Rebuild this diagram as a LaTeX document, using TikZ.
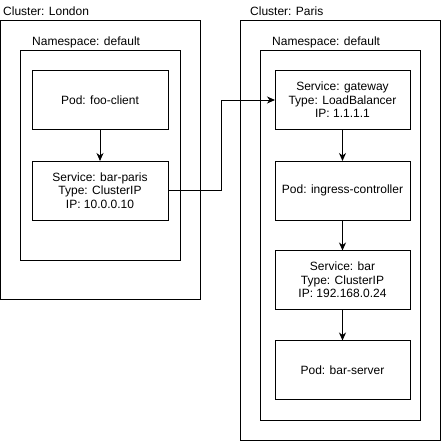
\documentclass[tikz,border=0pt]{standalone}
\usepackage{fontspec}
\setmainfont{Liberation Sans}
\usetikzlibrary{arrows.meta}
\begin{document}
\begin{tikzpicture}[x=1pt,y=-1pt,
  txt/.style={font=\fontsize{12}{13.5}\selectfont},
  frame/.style={draw=black,line width=1pt,inner sep=0pt,outer sep=0pt},
  item/.style={frame,txt,align=center,minimum width=136pt,minimum height=59pt},
  title/.style={txt,anchor=west,inner sep=0pt},
  conn/.style={draw=black,line width=1pt,-{Stealth[length=8pt,width=7pt,inset=2.5pt]}}
]
\useasboundingbox (0,0) rectangle (442,442);
% clusters
\node[frame,minimum width=200pt,minimum height=279pt] (london) at (100.5,160) {};
\node[frame,minimum width=200pt,minimum height=419.5pt] (paris) at (340.5,230.25) {};
\node[title] (londonlbl) at (3,11) {Cluster: London};
\node[title] (parislbl) at (250,11) {Cluster: Paris};
% namespaces
\node[frame,minimum width=160pt,minimum height=210pt] (nslondon) at (100.5,155.5) {};
\node[frame,minimum width=160pt,minimum height=370pt] (nsparis) at (340.5,235.5) {};
\node[title] (nslondonlbl) at (32,42) {Namespace: default};
\node[title] (nsparislbl) at (272,42) {Namespace: default};
% London items
\node[item] (fooclient) at (100,100) {Pod: foo-client};
\node[item] (barparis) at (100,190.5) {Service: bar-paris\\Type: ClusterIP\\IP: 10.0.0.10};
% Paris items
\node[item,minimum width=135pt] (gateway) at (342.5,100) {Service: gateway\\Type: LoadBalancer\\IP: 1.1.1.1};
\node[item,minimum width=135pt] (ingress) at (342.5,190.5) {Pod: ingress-controller};
\node[item,minimum width=135pt] (bar) at (342.5,280) {Service: bar\\Type: ClusterIP\\IP: 192.168.0.24};
\node[item,minimum width=135pt] (barserver) at (342.5,370) {Pod: bar-server};
% connectors
\draw[conn] (fooclient) -- (barparis);
\coordinate (bend) at (221.5,190.5);
\draw[conn] (barparis.east) -- (bend) |- (gateway.west);
\draw[conn] (gateway) -- (ingress);
\draw[conn] (ingress) -- (bar);
\draw[conn] (bar) -- (barserver);
\end{tikzpicture}
\end{document}
